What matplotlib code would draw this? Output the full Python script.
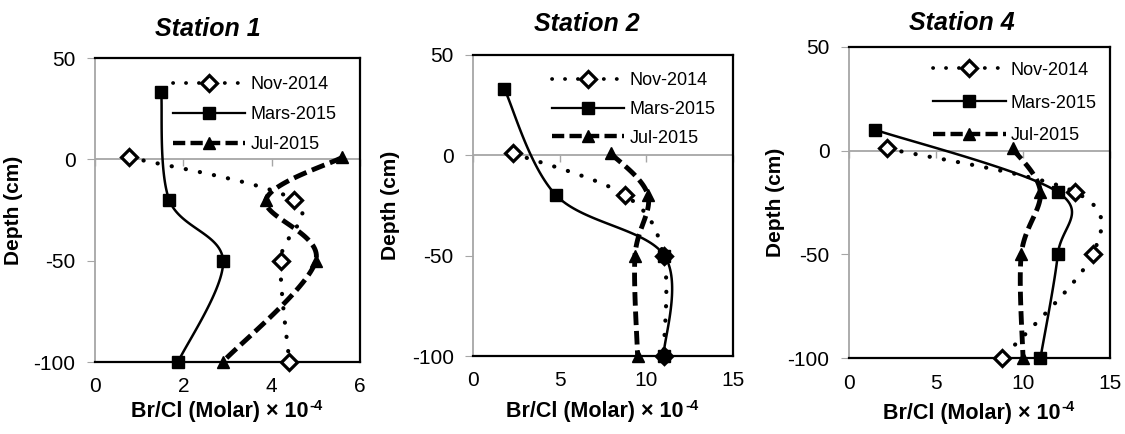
import numpy as np
import matplotlib
matplotlib.use("Agg")
import matplotlib.pyplot as plt
from matplotlib.lines import Line2D

plt.rcParams['font.family'] = ['Liberation Sans', 'DejaVu Sans']
plt.rcParams['axes.unicode_minus'] = False

# ---------------- data ----------------
stations = ["Station 1", "Station 2", "Station 4"]
series_names = ["Nov-2014", "Mars-2015", "Jul-2015"]

# Station 1
s1_nov_x = [0.78, 4.5, 4.2, 4.4]
s1_nov_y = [1, -20, -50, -100]
s1_mar_x = [1.5, 1.68, 2.9, 1.88]
s1_mar_y = [33, -20, -50, -100]
s1_jul_x = [5.6, 3.87, 5.0, 2.89]
s1_jul_y = [1, -20, -50, -100]

# Station 2
s2_nov_x = [2.3, 8.8, 11.0, 11.0]
s2_nov_y = [1, -20, -50, -100]
s2_mar_x = [1.8, 4.8, 11.05, 11.0]
s2_mar_y = [33, -20, -50, -100]
s2_jul_x = [7.95, 10.1, 9.35, 9.5]
s2_jul_y = [1, -20, -50, -100]

# Station 4
s4_nov_x = [2.2, 13.0, 14.0, 8.8]
s4_nov_y = [1, -20, -50, -100]
s4_mar_x = [1.5, 12.0, 12.0, 11.0]
s4_mar_y = [10, -20, -50, -100]
s4_jul_x = [9.4, 11.0, 9.9, 10.0]
s4_jul_y = [1, -20, -50, -100]

xlims = [(0, 6), (0, 15), (0, 15)]
xticks = [[0, 2, 4, 6], [0, 5, 10, 15], [0, 5, 10, 15]]
yticks = [50, 0, -50, -100]
ylim = (-100, 50)
xlabel_main = "Br/Cl (Molar) × 10"
xlabel_sup = "-4"

data = [
    [(s1_nov_x, s1_nov_y), (s1_mar_x, s1_mar_y), (s1_jul_x, s1_jul_y)],
    [(s2_nov_x, s2_nov_y), (s2_mar_x, s2_mar_y), (s2_jul_x, s2_jul_y)],
    [(s4_nov_x, s4_nov_y), (s4_mar_x, s4_mar_y), (s4_jul_x, s4_jul_y)],
]


def smooth(xs, ys, n=40):
    """Excel-like smoothed line (uniform Catmull-Rom / cubic Bezier)."""
    P = np.column_stack([xs, ys]).astype(float)
    P_ext = np.vstack([P[0], P, P[-1]])
    out = []
    t = np.linspace(0, 1, n)
    for i in range(len(P) - 1):
        p0, p1, p2, p3 = P_ext[i], P_ext[i + 1], P_ext[i + 2], P_ext[i + 3]
        c1 = p1 + (p2 - p0) / 6.0
        c2 = p2 - (p3 - p1) / 6.0
        seg = ((1 - t) ** 3)[:, None] * p1 + (3 * (1 - t) ** 2 * t)[:, None] * c1 \
            + (3 * (1 - t) * t ** 2)[:, None] * c2 + (t ** 3)[:, None] * p2
        out.append(seg if i == 0 else seg[1:])
    S = np.vstack(out)
    return S[:, 0], S[:, 1]


GRAY = '#a6a6a6'
styles = [
    dict(ls=(0, (0.05, 3.4)), lw=3.0, dash_capstyle='round', marker='D',
         ms=8, mfc='white', mec='black', mew=2.3),
    dict(ls='-', lw=1.8, marker='s', ms=8.5, mfc='black', mec='black', mew=1),
    dict(ls=(0, (2.8, 1.2)), lw=3.5, marker='^', ms=9, mfc='black', mec='black', mew=1),
]

axes_pos = [
    [95 / 1125, 72 / 434, 265 / 1125, 304 / 434],
    [473.3 / 1125, 78 / 434, 259.4 / 1125, 301 / 434],
    [849 / 1125, 75.7 / 434, 261 / 1125, 311.6 / 434],
]
title_pos = [(207.5, 29), (587, 24), (962, 22.5)]
ylabel_x = [-0.272, -0.283, -0.245]
xlabel_y = [412, 412, 413]
legend_anchor = [(0.294, 0.94), (0.302, 0.943), (0.323, 0.952)]
legend_spacing = [0.72, 0.65, 0.88]

fig = plt.figure(figsize=(11.25, 4.34), dpi=100)

for k in range(3):
    ax = fig.add_axes(axes_pos[k])
    ax.set_xlim(*xlims[k])
    ax.set_ylim(*ylim)
    ax.set_xticks(xticks[k])
    ax.set_yticks(yticks)
    ax.tick_params(axis='y', direction='out', length=6, color=GRAY, labelsize=15, pad=8)
    ax.tick_params(axis='x', length=0, labelsize=15, pad=11)
    for side in ['top', 'right', 'bottom']:
        ax.spines[side].set_color('black')
        ax.spines[side].set_linewidth(1.6)
    ax.spines['left'].set_color(GRAY)
    ax.spines['left'].set_linewidth(1.3)
    ax.axhline(0, color=GRAY, lw=1.3, zorder=1)
    # x-axis tick marks on the zero line
    sec = ax.secondary_xaxis(100 / 150)
    sec.xaxis.set_ticks_position('bottom')
    sec.set_xticks(xticks[k])
    sec.set_xticklabels([])
    sec.tick_params(direction='out', length=5, color=GRAY, width=1.0,
                    labelbottom=False, labeltop=False)
    sec.spines['bottom'].set_visible(False)
    sec.spines['top'].set_visible(False)

    handles = []
    for j in range(3):
        xs, ys = data[k][j]
        st = styles[j]
        sx, sy = smooth(xs, ys)
        ax.plot(sx, sy, color='black', ls=st['ls'], lw=st['lw'],
                dash_capstyle=st.get('dash_capstyle', 'butt'),
                solid_capstyle='round', zorder=3, clip_on=False)
        ax.plot(xs, ys, ls='none', marker=st['marker'], ms=st['ms'], mfc=st['mfc'],
                mec=st['mec'], mew=st['mew'], zorder=4, clip_on=False)
        handles.append(Line2D([], [], color='black', ls=st['ls'], lw=st['lw'] * 0.9,
                              dash_capstyle=st.get('dash_capstyle', 'butt'),
                              marker=st['marker'], ms=st['ms'], mfc=st['mfc'],
                              mec=st['mec'], mew=st['mew']))
    ax.legend(handles, series_names, loc='upper left', bbox_to_anchor=legend_anchor[k],
              frameon=False, fontsize=13, handlelength=4.0, handletextpad=0.3,
              labelspacing=legend_spacing[k], borderpad=0, borderaxespad=0, numpoints=1)

    ax.set_ylabel('Depth (cm)', fontsize=15, fontweight='bold')
    ax.yaxis.set_label_coords(ylabel_x[k], 0.5)
    cx = axes_pos[k][0] + axes_pos[k][2] / 2 - 8 / 1125
    main = fig.text(cx, 1 - xlabel_y[k] / 434, xlabel_main, fontsize=15.5,
                    fontweight='bold', ha='center', va='center')
    ax.annotate(xlabel_sup, xy=(1, 1), xycoords=main, xytext=(1, 1.5),
                textcoords='offset points', fontsize=10.5, fontweight='bold',
                ha='left', va='top', annotation_clip=False)
    fig.text(title_pos[k][0] / 1125, 1 - title_pos[k][1] / 434, stations[k],
             fontsize=18, fontweight='bold', fontstyle='italic', ha='center', va='center')

fig.savefig('out.png', dpi=100)
